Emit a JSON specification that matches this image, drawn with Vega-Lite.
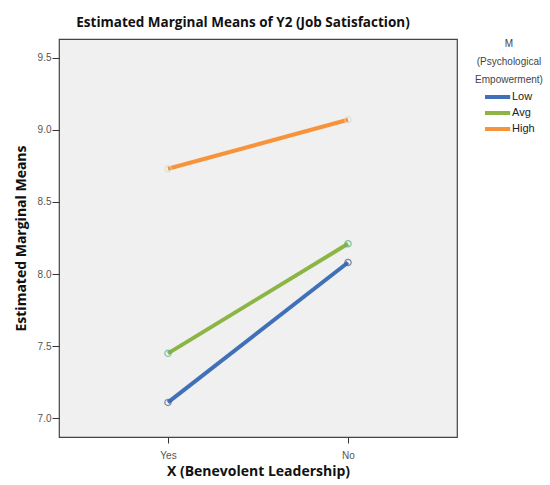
{
  "$schema": "https://vega.github.io/schema/vega-lite/v6.json",
  "width": 398,
  "height": 398,
  "autosize": {"type": "none"},
  "padding": {"left": 59, "top": 39, "right": 93, "bottom": 48},
  "background": "white",
  "title": {
    "text": "Estimated Marginal Means of Y2 (Job Satisfaction)",
    "font": "Open Sans",
    "fontSize": 13.5,
    "fontWeight": "bold",
    "color": "#111",
    "offset": 10,
    "dx": -15
  },
  "config": {
    "view": {"fill": "#f0f0f0", "stroke": "#444", "strokeWidth": 1.2},
    "axis": {
      "labelFont": "Liberation Sans",
      "labelFontSize": 10,
      "labelColor": "#555",
      "titleFont": "Open Sans",
      "titleFontSize": 14,
      "titleFontWeight": "bold",
      "titleColor": "#111",
      "tickColor": "#333",
      "domain": false,
      "grid": false
    }
  },
  "data": {
    "values": [
      {"X": "Yes", "M": "Low", "mean": 7.11},
      {"X": "No", "M": "Low", "mean": 8.08},
      {"X": "Yes", "M": "Avg", "mean": 7.45},
      {"X": "No", "M": "Avg", "mean": 8.21},
      {"X": "Yes", "M": "High", "mean": 8.73},
      {"X": "No", "M": "High", "mean": 9.07}
    ]
  },
  "encoding": {
    "x": {
      "field": "X",
      "type": "nominal",
      "sort": ["Yes", "No"],
      "scale": {"type": "point", "range": [109, 289], "padding": 0},
      "axis": {"title": "X (Benevolent Leadership)", "labelAngle": 0, "tickSize": 6, "labelPadding": 7, "titlePadding": 4}
    },
    "y": {
      "field": "mean",
      "type": "quantitative",
      "scale": {"domain": [6.87, 9.63], "nice": false, "zero": false},
      "axis": {"title": "Estimated Marginal Means", "values": [7.0, 7.5, 8.0, 8.5, 9.0, 9.5], "format": ".1f", "tickSize": 7, "labelPadding": 1, "titlePadding": 9}
    }
  },
  "layer": [
    {
      "mark": {"type": "line", "strokeWidth": 4},
      "encoding": {
        "color": {
          "field": "M",
          "type": "nominal",
          "sort": ["Low", "Avg", "High"],
          "scale": {"domain": ["Low", "Avg", "High"], "range": ["#3f70b8", "#8bb544", "#f7933b"]},
          "legend": {
            "title": ["M", "(Psychological", "Empowerment)"],
            "titleFont": "Liberation Sans",
            "titleFontSize": 10,
            "titleFontWeight": "normal",
            "titleColor": "#444",
            "titleAlign": "center",
            "titleAnchor": "middle",
            "titleLineHeight": 18,
            "titlePadding": 4,
            "labelFont": "Liberation Sans",
            "labelFontSize": 11,
            "labelColor": "#222",
            "symbolType": "M-1,0L3.2,0",
            "symbolStrokeWidth": 4,
            "symbolSize": 144,
            "labelOffset": 13,
            "rowPadding": 0,
            "offset": 18
          }
        }
      }
    },
    {
      "mark": {"type": "point", "filled": false, "size": 40, "strokeWidth": 1.2},
      "encoding": {
        "color": {
          "field": "M",
          "type": "nominal",
          "scale": {"domain": ["Low", "Avg", "High"], "range": ["#4a5890", "#4fae7e", "#d6dccb"]},
          "legend": null
        }
      }
    }
  ],
  "resolve": {"scale": {"color": "independent"}}
}
